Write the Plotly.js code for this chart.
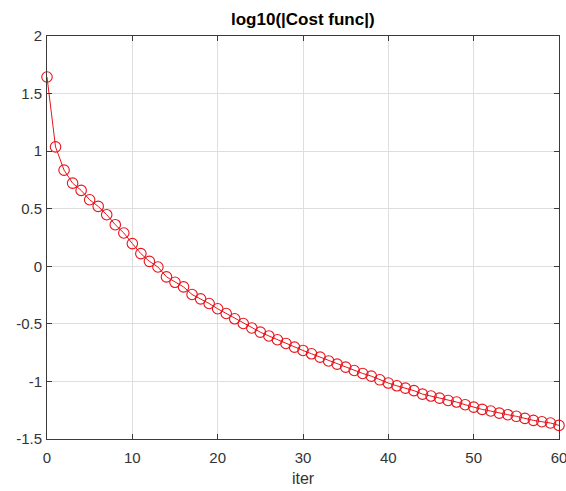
<!DOCTYPE html>
<html>
<head>
<meta charset="utf-8">
<script src="https://cdn.plot.ly/plotly-3.0.1.min.js"></script>
<style>html,body{margin:0;padding:0;background:#fff;}#chart{width:566px;height:491px;}</style>
</head>
<body>
<div id="chart"></div>
<script>
const iter = [];
for (let i = 0; i <= 60; i++) iter.push(i);
const costLog10 = [
  1.644, 1.037, 0.835, 0.722, 0.659, 0.578, 0.520, 0.448, 0.361, 0.289,
  0.197, 0.110, 0.043, -0.006, -0.092, -0.139, -0.179, -0.245, -0.283, -0.323,
  -0.369, -0.410, -0.456, -0.497, -0.536, -0.572, -0.605, -0.638, -0.670, -0.702,
  -0.731, -0.760, -0.789, -0.822, -0.850, -0.876, -0.905, -0.931, -0.954, -0.986,
  -1.014, -1.038, -1.058, -1.080, -1.110, -1.127, -1.145, -1.165, -1.179, -1.202,
  -1.223, -1.243, -1.257, -1.275, -1.289, -1.303, -1.321, -1.338, -1.350, -1.361,
  -1.382
];
const xTicks = [0, 10, 20, 30, 40, 50, 60];
const yTicks = [-1.5, -1, -0.5, 0, 0.5, 1, 1.5, 2];
const yTickLabels = ['-1.5', '-1', '-0.5', '0', '0.5', '1', '1.5', '2'];

const FONT = 'Liberation Sans, Arial, sans-serif';
const trace = {
  x: iter, y: costLog10, type: 'scatter', mode: 'lines+markers',
  line: {color: '#e8141c', width: 1},
  marker: {symbol: 'circle-open', size: 10.5, color: '#e8141c', line: {width: 1.1, color: '#e8141c'}},
  hoverinfo: 'skip', cliponaxis: false
};
const axisCommon = {
  showline: true, linecolor: '#3a3a3a', linewidth: 1, mirror: 'ticks',
  ticks: 'inside', ticklen: 5, tickcolor: '#3a3a3a', tickwidth: 1,
  showgrid: true, gridcolor: '#dedede', gridwidth: 1, zeroline: false,
  ticklabeloverflow: 'allow',
  tickfont: {family: FONT, size: 15, color: '#333333'}
};
const layout = {
  width: 566, height: 491,
  margin: {l: 47, r: 7, t: 36, b: 52},
  paper_bgcolor: '#ffffff', plot_bgcolor: '#ffffff',
  showlegend: false,
  title: {text: '<b>log10(|Cost func|)</b>', x: 0.535, xanchor: 'center', y: 0.9735, yanchor: 'top',
    font: {family: FONT, size: 17, color: '#000'}},
  xaxis: Object.assign({}, axisCommon, {
    range: [0, 60], tickmode: 'array', tickvals: xTicks, ticktext: xTicks.map(String),
    ticklabelstandoff: 5,
    title: {text: 'iter', standoff: 7, font: {family: FONT, size: 16, color: '#333333'}}
  }),
  yaxis: Object.assign({}, axisCommon, {
    range: [-1.5, 2], tickmode: 'array', tickvals: yTicks, ticktext: yTickLabels,
    ticklabelstandoff: 1
  })
};
Plotly.newPlot('chart', [trace], layout, {displayModeBar: false, staticPlot: true});
</script>
</body>
</html>
